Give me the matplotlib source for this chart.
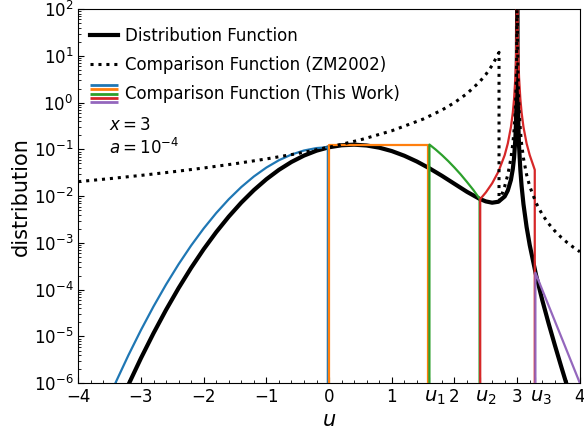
import matplotlib
matplotlib.use("Agg")
import matplotlib.pyplot as plt
from matplotlib.lines import Line2D
from matplotlib.legend_handler import HandlerBase
from matplotlib.ticker import MultipleLocator
from matplotlib.transforms import ScaledTranslation

# values
u1, u2, u3 = 1.6, 2.41, 3.29

# distribution function (black)
dist_u = [-3.3, -3.2, -3.0, -2.8, -2.6, -2.4, -2.2, -2.0, -1.8, -1.6, -1.4, -1.2,
          -1.0, -0.8, -0.6, -0.4, -0.2, 0.0, 0.2, 0.4, 0.6, 0.8, 1.0, 1.2, 1.4,
          1.6, 1.8, 2.0, 2.2, 2.4, 2.5, 2.6, 2.7, 2.8, 2.85, 2.9, 2.93, 2.95,
          2.97, 2.98, 2.99, 2.995, 2.999, 3.0, 3.001, 3.005, 3.01, 3.02, 3.03,
          3.05, 3.07, 3.1, 3.15, 3.2, 3.3, 3.4, 3.5, 3.6, 3.7, 3.8]
dist_f = [4.70e-7, 9.29e-7, 3.43e-6, 1.17e-5, 3.70e-5, 1.081e-4, 2.924e-4, 7.33e-4,
          1.70e-3, 3.653e-3, 7.28e-3, 1.343e-2, 2.299e-2, 3.652e-2, 5.383e-2,
          7.371e-2, 9.383e-2, 0.1111, 0.1225, 0.1261, 0.1211, 0.1089, 0.0920,
          0.0731, 0.0550, 0.0394, 0.0272, 0.01832, 0.01235, 8.75e-3, 7.72e-3,
          7.24e-3, 7.59e-3, 9.84e-3, 1.319e-2, 2.226e-2, 3.82e-2, 6.65e-2, 0.164,
          0.348, 1.31, 5.09, 122.0, 1.234e4, 121.0, 4.79, 1.162, 0.2736, 0.1145,
          3.65e-2, 1.647e-2, 6.71e-3, 2.18e-3, 8.93e-4, 2.07e-4, 5.96e-5, 1.915e-5,
          6.54e-6, 2.31e-6, 8.37e-7]

# comparison function ZM2002 (dotted)
zm_u = [-4.0, -3.5, -3.0, -2.5, -2.0, -1.5, -1.0, -0.5, 0.0, 0.5, 1.0, 1.5, 1.8,
        2.0, 2.2, 2.4, 2.5, 2.6, 2.7, 2.71, 2.71, 2.75, 2.8, 2.85, 2.9, 2.93,
        2.95, 2.97, 2.98, 2.99, 2.995, 2.999, 3.001, 3.005, 3.01, 3.02, 3.03,
        3.05, 3.07, 3.1, 3.15, 3.2, 3.3, 3.4, 3.5, 3.6, 3.7, 3.8, 3.9, 4.0]
zm_f = [0.02041, 0.02367, 0.02778, 0.03306, 0.04, 0.04938, 0.0625, 0.08163,
        0.1111, 0.16, 0.25, 0.4444, 0.6944, 1.0, 1.5625, 2.778, 4.0, 6.25,
        11.11, 11.89, 7.7e-3, 0.01035, 0.01618, 0.02876, 0.0647, 0.132, 0.2588,
        0.719, 1.618, 6.47, 25.9, 647.0, 647.0, 25.9, 6.47, 1.618, 0.719,
        0.2588, 0.132, 0.0647, 0.02876, 0.01618, 7.19e-3, 4.04e-3, 2.59e-3,
        1.80e-3, 1.32e-3, 1.01e-3, 7.99e-4, 6.47e-4]

# comparison function, this work (five pieces)
blue_u = [-3.45, -3.4, -3.2, -3.0, -2.8, -2.6, -2.4, -2.2, -2.0, -1.8, -1.6, -1.4,
          -1.2, -1.0, -0.8, -0.6, -0.4, -0.2, -0.02, -0.02]
blue_f = [7.5e-7, 1.06e-6, 3.97e-6, 1.371e-5, 4.374e-5, 1.288e-4, 3.501e-4,
          8.786e-4, 2.035e-3, 4.351e-3, 8.589e-3, 1.566e-2, 2.632e-2, 4.088e-2,
          5.859e-2, 7.752e-2, 9.468e-2, 0.1068, 0.1111, 1e-7]

orange_u = [0.0, 0.0, 1.58, 1.58]
orange_f = [1e-7, 0.127, 0.127, 1e-7]

green_u = [1.6, 1.6, 1.7, 1.8, 1.9, 2.0, 2.1, 2.2, 2.3, 2.40, 2.40]
green_f = [1e-7, 0.127, 0.0991, 0.0755, 0.0562, 0.0408, 0.0290, 0.0200,
           0.0136, 8.8e-3, 1e-7]

red_u = [2.41, 2.41, 2.5, 2.6, 2.7, 2.8, 2.85, 2.9, 2.93, 2.95, 2.97, 2.98, 2.99,
         3.0, 3.01, 3.02, 3.03, 3.05, 3.07, 3.1, 3.15, 3.2, 3.25, 3.28, 3.28]
red_f = [1e-7, 8.63e-3, 0.01201, 0.01877, 0.03337, 0.0751, 0.1335, 0.3003, 0.613,
         1.201, 3.337, 7.51, 30.0, 3e5, 30.0, 7.51, 3.337, 1.201,
         0.613, 0.3003, 0.1335, 0.0751, 0.0480, 0.0365, 1e-7]

purple_u = [3.29, 3.29, 3.5, 3.75, 4.0]
purple_f = [1e-7, 2.3e-4, 4.6e-5, 6.8e-6, 1.0e-6]

piece_colors = ["#1f77b4", "#ff7f0e", "#2ca02c", "#d62728", "#9467bd"]

xticks = [-4, -3, -2, -1, 0, 1, u1, 2, u2, 3, u3, 4]
xticklabels = ["\u22124", "\u22123", "\u22122", "\u22121", "0", "1", "$u_1$", "2",
               "$u_2$", "3", "$u_3$", "4"]


class StackHandler(HandlerBase):
    # legend handle drawn as a small stack of coloured lines
    def __init__(self, colors):
        super().__init__()
        self.colors = colors

    def create_artists(self, legend, orig_handle, xdescent, ydescent,
                       width, height, fontsize, trans):
        artists = []
        mid = height / 2 - ydescent
        step = 3.2
        n = len(self.colors)
        for i, c in enumerate(self.colors):
            y = mid + step * ((n - 1) / 2 - i)
            ln = Line2D([-xdescent, width - xdescent], [y, y], color=c, lw=2.0,
                        solid_capstyle="butt", transform=trans)
            artists.append(ln)
        return artists


fig = plt.figure(figsize=(5.84, 4.33), dpi=100)
ax = fig.add_axes([0.134, 0.115, 0.859, 0.864])

black, = ax.plot(dist_u, dist_f, color="black", lw=3.0, zorder=2)
for uu, ff, c in zip([blue_u, orange_u, green_u, red_u, purple_u],
                     [blue_f, orange_f, green_f, red_f, purple_f], piece_colors):
    ax.plot(uu, ff, color=c, lw=1.6, zorder=3)
dotted, = ax.plot(zm_u, zm_f, color="black", lw=2.2, ls=(0, (1, 1.6)), zorder=4)

ax.set_yscale("log")
ax.set_xlim(-4, 4)
ax.set_ylim(1e-6, 1e2)

ax.set_xticks(xticks)
ax.set_xticklabels(xticklabels)
ax.xaxis.set_minor_locator(MultipleLocator(0.2))
ax.tick_params(which="both", direction="in", labelsize=12)
ax.tick_params(which="major", length=4)
ax.tick_params(which="minor", length=2)
# the u labels sit a little right of their ticks in the reference
shift = ScaledTranslation(4 / 72, 0, fig.dpi_scale_trans)
for lab in ax.get_xticklabels():
    if lab.get_text().startswith("$u"):
        lab.set_fontsize(14)
        lab.set_transform(lab.get_transform() + shift)

ax.set_xlabel("$u$", fontsize=15, labelpad=2)
ax.set_ylabel("distribution", fontsize=15, labelpad=2)

ax.text(0.062, 0.69, "$x=3$", transform=ax.transAxes, fontsize=12, va="center")
ax.text(0.062, 0.63, "$a=10^{-4}$", transform=ax.transAxes, fontsize=12,
        va="center")

stack = object()
ax.legend([black, dotted, stack],
          ["Distribution Function", "Comparison Function (ZM2002)",
           "Comparison Function (This Work)"],
          handler_map={stack: StackHandler(piece_colors)},
          loc="upper left", bbox_to_anchor=(0.0, 0.984), frameon=False,
          fontsize=12, handlelength=1.7, handletextpad=0.4, labelspacing=0.68,
          borderaxespad=0.3)

fig.savefig("out.png", dpi=100)
